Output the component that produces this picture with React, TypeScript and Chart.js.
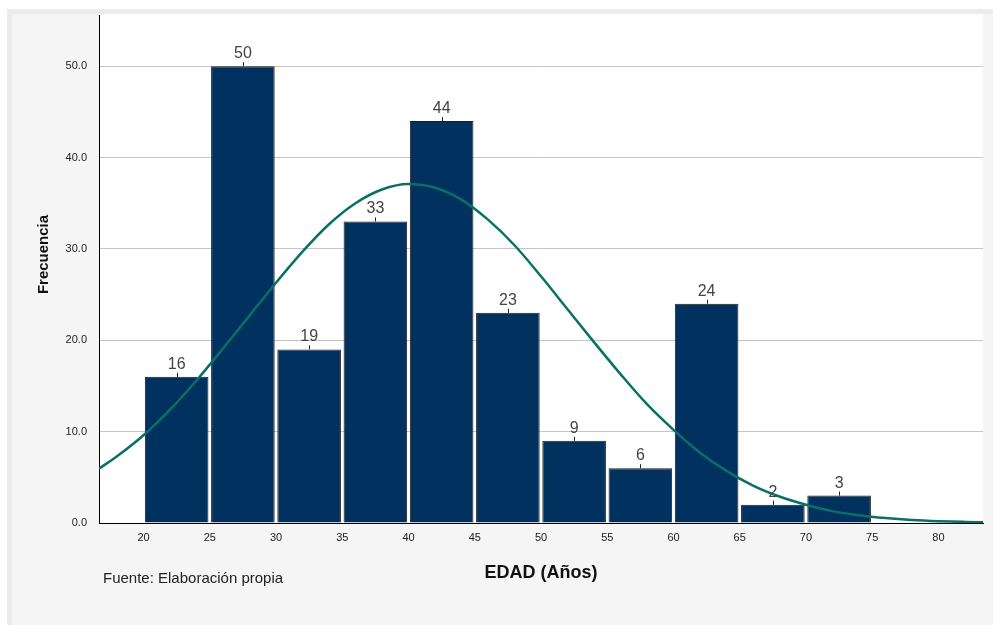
import React, { useEffect, useRef } from "react";
import { Chart, registerables } from "chart.js";

Chart.register(...registerables);

// Histogram bins (EDAD, años) – bin centres and frequencies
const binCenters = [22.5, 27.5, 32.5, 37.5, 42.5, 47.5, 52.5, 57.5, 62.5, 67.5, 72.5];
const frequencies = [16, 50, 19, 33, 44, 23, 9, 6, 24, 2, 3];

// Normal curve
const curveX = [16.6, 18, 20, 22, 24, 26, 28, 30, 32, 34, 36, 38, 40, 42, 44, 46, 48, 50, 52, 54, 56, 58, 60, 62, 64, 66, 68, 70, 72, 74, 76, 78, 80, 82, 83.4];
const curveY = [5.9, 7.3, 9.6, 12.4, 15.6, 19.1, 22.7, 26.3, 29.7, 32.7, 35.0, 36.5, 37.1, 36.7, 35.4, 33.2, 30.4, 27.0, 23.4, 19.8, 16.3, 13.0, 10.2, 7.7, 5.7, 4.1, 2.9, 2.0, 1.3, 0.85, 0.54, 0.33, 0.2, 0.12, 0.08];

// Tick labels
const xTicks = [20, 25, 30, 35, 40, 45, 50, 55, 60, 65, 70, 75, 80];
const yTicks = [0, 10, 20, 30, 40, 50];

const yTitle = "Frecuencia";
const xTitle = "EDAD (Años)";
const footer = "Fuente: Elaboración propia";

const FONT = "'Liberation Sans', Arial, sans-serif";

export default function App() {
  const ref = useRef<HTMLCanvasElement | null>(null);

  useEffect(() => {
    const canvas = ref.current;
    if (!canvas) return;

    const bgPlugin = {
      id: "bg",
      beforeDraw(chart: any) {
        const { ctx, chartArea } = chart;
        ctx.save();
        ctx.fillStyle = "#ffffff";
        ctx.fillRect(0, 0, chart.width, chart.height);
        ctx.fillStyle = "#ececec";
        ctx.fillRect(7, 9, chart.width - 7, chart.height - 9);
        ctx.fillStyle = "#f5f5f5";
        ctx.fillRect(12, 14, chart.width - 12, chart.height - 14);
        ctx.fillStyle = "#ffffff";
        ctx.fillRect(chartArea.left, 14, chartArea.right - chartArea.left, chartArea.bottom - 14);
        ctx.restore();
      },
    };

    const labelPlugin = {
      id: "barLabels",
      afterDatasetsDraw(chart: any) {
        const { ctx } = chart;
        const meta = chart.getDatasetMeta(1);
        ctx.save();
        ctx.font = `16px ${FONT}`;
        ctx.fillStyle = "#444444";
        ctx.strokeStyle = "#222222";
        ctx.lineWidth = 1;
        ctx.textAlign = "center";
        ctx.textBaseline = "alphabetic";
        meta.data.forEach((el: any, i: number) => {
          const x = Math.round(el.x) + 0.5;
          ctx.beginPath();
          ctx.moveTo(x, el.y);
          ctx.lineTo(x, el.y - 4);
          ctx.stroke();
          ctx.fillText(String(frequencies[i]), el.x, el.y - 8);
        });
        ctx.restore();
      },
    };

    const titlePlugin = {
      id: "titles",
      afterDraw(chart: any) {
        const { ctx, chartArea } = chart;
        ctx.save();
        ctx.fillStyle = "#111111";
        ctx.font = `bold 15px ${FONT}`;
        ctx.textAlign = "center";
        ctx.textBaseline = "alphabetic";
        ctx.translate(48, 254.5);
        ctx.rotate(-Math.PI / 2);
        ctx.fillText(yTitle, 0, 0);
        ctx.restore();

        ctx.save();
        ctx.fillStyle = "#111111";
        ctx.font = `bold 18px ${FONT}`;
        ctx.textAlign = "center";
        ctx.textBaseline = "alphabetic";
        ctx.fillText(xTitle, (chartArea.left + chartArea.right) / 2, 578);
        ctx.font = `15px ${FONT}`;
        ctx.fillStyle = "#222222";
        ctx.textAlign = "left";
        ctx.fillText(footer, 103, 583);
        ctx.restore();
      },
    };

    const chart = new Chart(canvas, {
      type: "bar",
      data: {
        datasets: [
          {
            type: "line",
            data: curveX.map((x, i) => ({ x, y: curveY[i] })),
            borderColor: "#0b6f69",
            borderWidth: 2.5,
            pointRadius: 0,
            cubicInterpolationMode: "monotone",
            fill: false,
            order: 0,
          } as any,
          {
            type: "bar",
            data: binCenters.map((x, i) => ({ x, y: frequencies[i] })),
            backgroundColor: "#01315e",
            borderColor: "#1e1e1e",
            borderWidth: 1,
            barPercentage: 0.96,
            categoryPercentage: 1,
            order: 1,
          } as any,
        ],
      },
      options: {
        responsive: false,
        animation: false,
        devicePixelRatio: 1,
        layout: { padding: { left: 0, top: 15, right: 10, bottom: 0 } },
        plugins: { legend: { display: false }, tooltip: { enabled: false } },
        scales: {
          x: {
            type: "linear",
            min: 16.64,
            max: 83.36,
            offset: false,
            afterBuildTicks: (s: any) => {
              s.ticks = xTicks.map((v) => ({ value: v }));
            },
            afterFit: (s: any) => {
              s.height = 102;
              s.paddingLeft = 0;
              s.paddingRight = 0;
            },
            grid: { display: false, drawTicks: false },
            border: { display: true, color: "#000000", width: 1 },
            ticks: {
              padding: 8,
              color: "#222222",
              font: { family: FONT, size: 11 },
              autoSkip: false,
              maxRotation: 0,
            },
          },
          y: {
            type: "linear",
            min: 0,
            max: 55.6,
            afterBuildTicks: (s: any) => {
              s.ticks = yTicks.map((v) => ({ value: v }));
            },
            afterFit: (s: any) => {
              s.width = 99;
              s.paddingTop = 0;
              s.paddingBottom = 0;
            },
            grid: {
              drawTicks: false,
              color: (c: any) => (c.tick && c.tick.value === 0 ? "rgba(0,0,0,0)" : "#c4c4c4"),
              lineWidth: 1,
            },
            border: { display: true, color: "#000000", width: 1 },
            ticks: {
              padding: 12,
              color: "#222222",
              font: { family: FONT, size: 11 },
              callback: (v: any) => Number(v).toFixed(1),
            },
          },
        },
      },
      plugins: [bgPlugin, labelPlugin, titlePlugin],
    } as any);

    return () => chart.destroy();
  }, []);

  return (
    <div style={{ position: "fixed", left: 0, top: 0, width: 993, height: 625 }}>
      <canvas ref={ref} width={993} height={625} style={{ display: "block" }} />
    </div>
  );
}
